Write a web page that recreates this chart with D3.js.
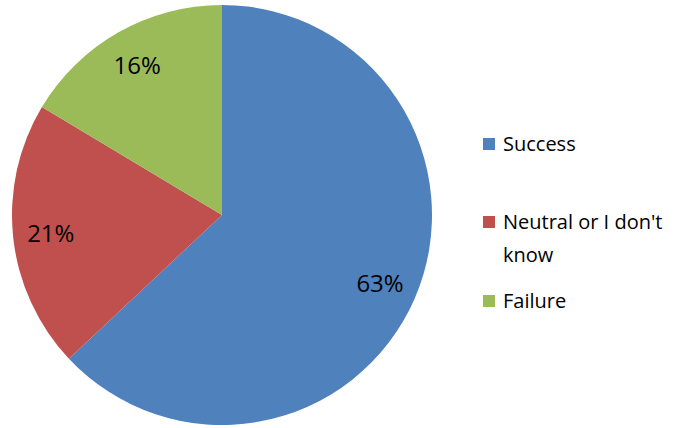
<!DOCTYPE html>
<html>
<head>
<meta charset="utf-8">
<script src="https://cdn.jsdelivr.net/npm/d3@7"></script>
<style>
  body { margin: 0; background: #fff; }
  text { font-family: "Open Sans", sans-serif; fill: #000; }
</style>
</head>
<body>
<div id="chart"></div>
<script>
var categories = ["Success", "Neutral or I don't know", "Failure"];
var values = [63.0, 20.6, 16.4];
var colors = ["#4f81bd", "#c0504d", "#9bbb59"];

var width = 680, height = 428;
var cx = 222, cy = 215, r = 210;

var svg = d3.select("#chart").append("svg")
    .attr("width", width)
    .attr("height", height);

var pie = d3.pie().sort(null).value(function (d) { return d; });
var arc = d3.arc().innerRadius(0).outerRadius(r);
var labelArc = d3.arc().innerRadius(r * 0.82).outerRadius(r * 0.82);

var g = svg.append("g").attr("transform", "translate(" + cx + "," + cy + ")");

var slices = pie(values);

g.selectAll("path")
    .data(slices)
    .enter()
    .append("path")
    .attr("d", arc)
    .style("fill", function (d, i) { return colors[i]; });

g.selectAll("text.lbl")
    .data(slices)
    .enter()
    .append("text")
    .attr("class", "lbl")
    .attr("transform", function (d) { return "translate(" + labelArc.centroid(d) + ")"; })
    .attr("text-anchor", "middle")
    .attr("dy", "0.36em")
    .style("font-size", "24px")
    .text(function (d) { return Math.round(d.data) + "%"; });

// legend
var legendY = [144, 222, 301];
var legend = svg.append("g");
categories.forEach(function (c, i) {
    legend.append("rect")
        .attr("x", 483)
        .attr("y", legendY[i] - 6)
        .attr("width", 12)
        .attr("height", 12)
        .style("fill", colors[i]);
    var t = legend.append("text")
        .attr("x", 503)
        .attr("y", legendY[i])
        .attr("dy", "0.36em")
        .style("font-size", "20px");
    if (i === 1) {
        t.append("tspan").attr("x", 503).text("Neutral or I don't");
        t.append("tspan").attr("x", 503).attr("y", legendY[i] + 33).attr("dy", "0.36em").text("know");
    } else {
        t.text(c);
    }
});
</script>
</body>
</html>
